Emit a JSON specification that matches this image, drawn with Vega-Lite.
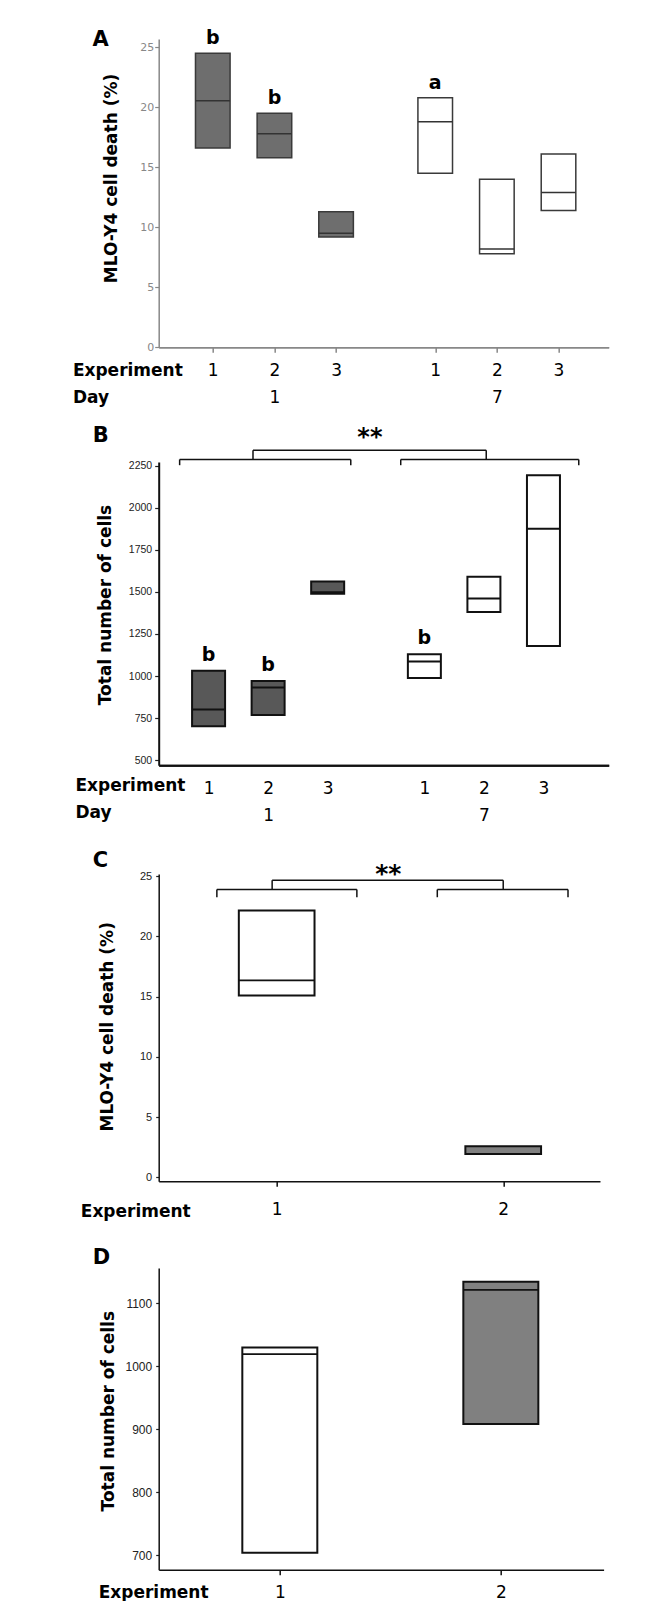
{
  "$schema": "https://vega.github.io/schema/vega-lite/v6.json",
  "background": "white",
  "padding": {"left": 71.7, "top": 28, "right": 5, "bottom": 0},
  "config": {
    "view": {"stroke": null},
    "font": "DejaVu Sans",
    "axis": {"grid": false}
  },
  "datasets": {
    "A": [
      {"Day": 1, "Experiment": 1, "Low": 16.6, "Median": 20.55, "High": 24.5, "Letter": "b"},
      {"Day": 1, "Experiment": 2, "Low": 15.8, "Median": 17.8, "High": 19.5, "Letter": "b"},
      {"Day": 1, "Experiment": 3, "Low": 9.2, "Median": 9.5, "High": 11.3, "Letter": ""},
      {"Day": 7, "Experiment": 1, "Low": 14.5, "Median": 18.8, "High": 20.8, "Letter": "a"},
      {"Day": 7, "Experiment": 2, "Low": 7.8, "Median": 8.2, "High": 14.0, "Letter": ""},
      {"Day": 7, "Experiment": 3, "Low": 11.4, "Median": 12.9, "High": 16.1, "Letter": ""}
    ],
    "B": [
      {"Day": 1, "Experiment": 1, "Low": 702, "Median": 801, "High": 1031, "Letter": "b"},
      {"Day": 1, "Experiment": 2, "Low": 768, "Median": 932, "High": 970, "Letter": "b"},
      {"Day": 1, "Experiment": 3, "Low": 1488, "Median": 1497, "High": 1562, "Letter": ""},
      {"Day": 7, "Experiment": 1, "Low": 988, "Median": 1086, "High": 1130, "Letter": "b"},
      {"Day": 7, "Experiment": 2, "Low": 1380, "Median": 1461, "High": 1590, "Letter": ""},
      {"Day": 7, "Experiment": 3, "Low": 1178, "Median": 1875, "High": 2193, "Letter": ""}
    ],
    "C": [
      {"Experiment": 1, "Low": 15.1, "Median": 16.36, "High": 22.15},
      {"Experiment": 2, "Low": 1.94, "Median": 1.94, "High": 2.57}
    ],
    "D": [
      {"Experiment": 1, "Low": 703.7, "Median": 1019, "High": 1029.5},
      {"Experiment": 2, "Low": 908, "Median": 1121, "High": 1133.8}
    ],
    "bracketsB": [
      {"from": 0.514, "to": 3.388, "bar": 2286, "tip": 2252},
      {"from": 4.227, "to": 7.217, "bar": 2286, "tip": 2252},
      {"from": 1.746, "to": 5.663, "bar": 2341, "tip": 2286}
    ],
    "bracketsC": [
      {"from": 0.736, "to": 1.354, "bar": 23.9, "tip": 23.26},
      {"from": 1.709, "to": 2.286, "bar": 23.9, "tip": 23.26},
      {"from": 0.98, "to": 2.0, "bar": 24.67, "tip": 23.9}
    ],
    "significanceB": [
      {"label": "**", "at": 3.709, "level": 2374}
    ],
    "significanceC": [
      {"label": "**", "at": 1.4923, "level": 24.51}
    ]
  },
  "vconcat": [
    {
      "width": 450,
      "height": 308.3,
      "title": {"text": "A", "anchor": "start", "frame": "group", "orient": "top", "offset": 0, "baseline": "alphabetic", "dx": -66.3, "dy": 37.4, "font": "DejaVu Sans", "fontSize": 21, "fontWeight": "bold", "color": "#000"},
      "data": {"name": "A"},
      "layer": [
        {
          "transform": [{"filter": "datum.Day == 1"}],
          "encoding": {
            "x": {
              "field": "Experiment", "type": "quantitative",
              "scale": {"domain": [0.2038, 7.341], "nice": false, "zero": false},
              "axis": {
                "orient": "bottom", "values": [1, 2, 3], "format": "d",
                "labelExpr": "datum.value == 2 ? ['2', '1'] : datum.label",
                "labelFont": "DejaVu Sans", "labelFontSize": 17, "labelColor": "#000", "labelBaseline": "alphabetic", "labelPadding": 23.4, "labelLineHeight": 27, "labelFlush": false, "labelOverlap": false,
                "tickSize": 5, "tickColor": "#888", "tickWidth": 1.5,
                "domainColor": "#888", "domainWidth": 1.5,
                "title": ["Experiment", "Day"], "titleFont": "DejaVu Sans", "titleFontSize": 17, "titleFontWeight": "bold", "titleColor": "#000", "titleAlign": "left", "titleAngle": 0, "titleBaseline": "alphabetic", "titleLineHeight": 27, "titleX": -86.3, "titleY": 28.4
              }
            }
          },
          "layer": [
            {
              "mark": {"type": "bar", "orient": "vertical", "width": 34.6, "stroke": "#3a3a3a", "strokeWidth": 1.5},
              "encoding": {
                "y": {
                  "field": "Low", "type": "quantitative",
                  "scale": {"domain": [0, 25.69], "nice": false, "zero": false},
                  "axis": {
                    "values": [0, 5, 10, 15, 20, 25],
                    "labelFont": "DejaVu Sans", "labelFontSize": 11, "labelColor": "#888", "labelPadding": 1,
                    "tickSize": 4, "tickColor": "#888", "tickWidth": 1.2,
                    "domainColor": "#888", "domainWidth": 1.5,
                    "title": "MLO-Y4  cell death (%)", "titleFont": "DejaVu Sans", "titleFontSize": 17, "titleFontWeight": "bold", "titleColor": "#000",
                    "titleAngle": -90, "titleAlign": "center", "titleBaseline": "middle", "titleX": -47.1, "titleY": 139
                  }
                },
                "y2": {"field": "High"},
                "fill": {"field": "Day", "type": "nominal", "scale": {"domain": [1, 7], "range": ["#6e6e6e", "#ffffff"]}, "legend": null}
              }
            },
            {
              "mark": {"type": "tick", "orient": "horizontal", "size": 34.6, "thickness": 1.5, "color": "#333", "opacity": 1},
              "encoding": {"y": {"field": "Median", "type": "quantitative", "scale": {"domain": [0, 25.69], "nice": false, "zero": false}}}
            },
            {
              "mark": {"type": "text", "dy": -9, "baseline": "alphabetic", "align": "center", "font": "DejaVu Sans", "fontSize": 19, "fontWeight": "bold", "color": "#000"},
              "encoding": {
                "y": {"field": "High", "type": "quantitative", "scale": {"domain": [0, 25.69], "nice": false, "zero": false}},
                "text": {"field": "Letter"}
              }
            }
          ]
        },
        {
          "transform": [{"filter": "datum.Day == 7"}],
          "encoding": {
            "x": {
              "field": "Experiment", "type": "quantitative",
              "scale": {"domain": [-3.4044, 3.7328], "nice": false, "zero": false},
              "axis": {
                "orient": "bottom", "values": [1, 2, 3], "format": "d",
                "labelExpr": "datum.value == 2 ? ['2', '7'] : datum.label",
                "labelFont": "DejaVu Sans", "labelFontSize": 17, "labelColor": "#000", "labelBaseline": "alphabetic", "labelPadding": 23.4, "labelLineHeight": 27, "labelFlush": false, "labelOverlap": false,
                "tickSize": 5, "tickColor": "#888", "tickWidth": 1.5,
                "domainColor": "#888", "domainWidth": 1.5,
                "title": null
              }
            }
          },
          "layer": [
            {
              "mark": {"type": "bar", "orient": "vertical", "width": 34.6, "stroke": "#3a3a3a", "strokeWidth": 1.5},
              "encoding": {
                "y": {"field": "Low", "type": "quantitative", "scale": {"domain": [0, 25.69], "nice": false, "zero": false}},
                "y2": {"field": "High"},
                "fill": {"field": "Day", "type": "nominal", "scale": {"domain": [1, 7], "range": ["#6e6e6e", "#ffffff"]}, "legend": null}
              }
            },
            {
              "mark": {"type": "tick", "orient": "horizontal", "size": 34.6, "thickness": 1.5, "color": "#333", "opacity": 1},
              "encoding": {"y": {"field": "Median", "type": "quantitative", "scale": {"domain": [0, 25.69], "nice": false, "zero": false}}}
            },
            {
              "mark": {"type": "text", "dy": -9, "baseline": "alphabetic", "align": "center", "font": "DejaVu Sans", "fontSize": 19, "fontWeight": "bold", "color": "#000"},
              "encoding": {
                "y": {"field": "High", "type": "quantitative", "scale": {"domain": [0, 25.69], "nice": false, "zero": false}},
                "text": {"field": "Letter"}
              }
            }
          ]
        }
      ],
      "resolve": {"scale": {"x": "independent"}, "axis": {"x": "independent"}}
    },
    {"width": 10, "height": 113.4, "data": {"values": []}, "mark": "point", "encoding": {}},
    {
      "width": 450,
      "height": 303.3,
      "title": {"text": "B", "anchor": "start", "frame": "group", "orient": "top", "offset": 0, "baseline": "alphabetic", "dx": -65.9, "dy": 37.5, "font": "DejaVu Sans", "fontSize": 21, "fontWeight": "bold", "color": "#000"},
      "data": {"name": "B"},
      "layer": [
        {
          "encoding": {
            "x": {
              "field": "Experiment", "type": "quantitative",
              "scale": {"domain": [0.2463, 7.6355], "nice": false, "zero": false},
              "axis": {
                "orient": "bottom", "values": [1, 2, 3], "format": "d",
                "labelExpr": "datum.value == 2 ? ['2', '1'] : datum.label",
                "labelFont": "DejaVu Sans", "labelFontSize": 17, "labelColor": "#000", "labelBaseline": "alphabetic", "labelPadding": 28.3, "labelLineHeight": 26.7, "labelFlush": false, "labelOverlap": false,
                "tickSize": 0, "tickOpacity": 0,
                "domainColor": "#111", "domainWidth": 2,
                "title": ["Experiment", "Day"], "titleFont": "DejaVu Sans", "titleFontSize": 17, "titleFontWeight": "bold", "titleColor": "#000", "titleAlign": "left", "titleAngle": 0, "titleBaseline": "alphabetic", "titleLineHeight": 26.7, "titleX": -83.7, "titleY": 25.5
              }
            }
          },
          "layer": [
            {
              "transform": [{"filter": "datum.Day == 1"}],
              "mark": {"type": "bar", "orient": "vertical", "width": 33, "stroke": "#111", "strokeWidth": 2},
              "encoding": {
                "y": {
                  "field": "Low", "type": "quantitative",
                  "scale": {"domain": [470, 2271], "nice": false, "zero": false},
                  "axis": {
                    "values": [500, 750, 1000, 1250, 1500, 1750, 2000, 2250], "format": "d",
                    "labelFont": "Liberation Sans Narrow, Liberation Sans", "labelFontSize": 10.5, "labelColor": "#222", "labelPadding": 3,
                    "tickSize": 4, "tickColor": "#222", "tickWidth": 1.2,
                    "domainColor": "#111", "domainWidth": 2,
                    "title": "Total number of cells", "titleFont": "DejaVu Sans", "titleFontSize": 17, "titleFontWeight": "bold", "titleColor": "#000",
                    "titleAngle": -90, "titleAlign": "center", "titleBaseline": "middle", "titleX": -53.4, "titleY": 142.5
                  }
                },
                "y2": {"field": "High"},
                "fill": {"field": "Day", "type": "nominal", "scale": {"domain": [1, 7], "range": ["#585858", "#ffffff"]}, "legend": null}
              }
            },
            {
              "transform": [{"filter": "datum.Day == 1"}],
              "mark": {"type": "tick", "orient": "horizontal", "size": 33, "thickness": 2, "color": "#111", "opacity": 1},
              "encoding": {"y": {"field": "Median", "type": "quantitative", "scale": {"domain": [470, 2271], "nice": false, "zero": false}}}
            },
            {
              "transform": [{"filter": "datum.Day == 1"}],
              "mark": {"type": "text", "dy": -10, "baseline": "alphabetic", "align": "center", "font": "DejaVu Sans", "fontSize": 19, "fontWeight": "bold", "color": "#000"},
              "encoding": {
                "y": {"field": "High", "type": "quantitative", "scale": {"domain": [470, 2271], "nice": false, "zero": false}},
                "text": {"field": "Letter"}
              }
            },
            {
              "data": {"name": "bracketsB"},
              "mark": {"type": "rule", "color": "#111", "strokeWidth": 1.5},
              "encoding": {
                "x": {"field": "from", "type": "quantitative", "scale": {"domain": [0.2463, 7.6355], "nice": false, "zero": false}},
                "x2": {"field": "to"},
                "y": {"field": "bar", "type": "quantitative", "scale": {"domain": [470, 2271], "nice": false, "zero": false}}
              }
            },
            {
              "data": {"name": "bracketsB"},
              "mark": {"type": "rule", "color": "#111", "strokeWidth": 1.5},
              "encoding": {
                "x": {"field": "from", "type": "quantitative", "scale": {"domain": [0.2463, 7.6355], "nice": false, "zero": false}},
                "y": {"field": "bar", "type": "quantitative", "scale": {"domain": [470, 2271], "nice": false, "zero": false}},
                "y2": {"field": "tip"}
              }
            },
            {
              "data": {"name": "bracketsB"},
              "mark": {"type": "rule", "color": "#111", "strokeWidth": 1.5},
              "encoding": {
                "x": {"field": "to", "type": "quantitative", "scale": {"domain": [0.2463, 7.6355], "nice": false, "zero": false}},
                "y": {"field": "bar", "type": "quantitative", "scale": {"domain": [470, 2271], "nice": false, "zero": false}},
                "y2": {"field": "tip"}
              }
            },
            {
              "data": {"name": "significanceB"},
              "mark": {"type": "text", "baseline": "alphabetic", "align": "center", "font": "DejaVu Sans", "fontSize": 24, "fontWeight": "bold", "color": "#000"},
              "encoding": {
                "x": {"field": "at", "type": "quantitative", "scale": {"domain": [0.2463, 7.6355], "nice": false, "zero": false}},
                "y": {"field": "level", "type": "quantitative", "scale": {"domain": [470, 2271], "nice": false, "zero": false}},
                "text": {"field": "label", "type": "nominal"}
              }
            }
          ]
        },
        {
          "transform": [{"filter": "datum.Day == 7"}],
          "encoding": {
            "x": {
              "field": "Experiment", "type": "quantitative",
              "scale": {"domain": [-3.3777, 4.0115], "nice": false, "zero": false},
              "axis": {
                "orient": "bottom", "values": [1, 2, 3], "format": "d",
                "labelExpr": "datum.value == 2 ? ['2', '7'] : datum.label",
                "labelFont": "DejaVu Sans", "labelFontSize": 17, "labelColor": "#000", "labelBaseline": "alphabetic", "labelPadding": 28.3, "labelLineHeight": 26.7, "labelFlush": false, "labelOverlap": false,
                "tickSize": 0, "tickOpacity": 0,
                "domainColor": "#111", "domainWidth": 2,
                "title": null
              }
            }
          },
          "layer": [
            {
              "mark": {"type": "bar", "orient": "vertical", "width": 33, "stroke": "#111", "strokeWidth": 2},
              "encoding": {
                "y": {"field": "Low", "type": "quantitative", "scale": {"domain": [470, 2271], "nice": false, "zero": false}},
                "y2": {"field": "High"},
                "fill": {"field": "Day", "type": "nominal", "scale": {"domain": [1, 7], "range": ["#585858", "#ffffff"]}, "legend": null}
              }
            },
            {
              "mark": {"type": "tick", "orient": "horizontal", "size": 33, "thickness": 2, "color": "#111", "opacity": 1},
              "encoding": {"y": {"field": "Median", "type": "quantitative", "scale": {"domain": [470, 2271], "nice": false, "zero": false}}}
            },
            {
              "mark": {"type": "text", "dy": -10, "baseline": "alphabetic", "align": "center", "font": "DejaVu Sans", "fontSize": 19, "fontWeight": "bold", "color": "#000"},
              "encoding": {
                "y": {"field": "High", "type": "quantitative", "scale": {"domain": [470, 2271], "nice": false, "zero": false}},
                "text": {"field": "Letter"}
              }
            }
          ]
        }
      ],
      "resolve": {"scale": {"x": "independent"}, "axis": {"x": "independent"}}
    },
    {"width": 10, "height": 107.7, "data": {"values": []}, "mark": "point", "encoding": {}},
    {
      "width": 441.3,
      "height": 307.3,
      "title": {"text": "C", "anchor": "start", "frame": "group", "orient": "top", "offset": 0, "baseline": "alphabetic", "dx": -66, "dy": 25.9, "font": "DejaVu Sans", "fontSize": 21, "fontWeight": "bold", "color": "#000"},
      "data": {"name": "C"},
      "encoding": {
        "x": {
          "field": "Experiment", "type": "quantitative",
          "scale": {"domain": [0.5013, 2.4051], "nice": false, "zero": false},
          "axis": {
            "orient": "bottom", "values": [1, 2], "format": "d",
            "labelFont": "DejaVu Sans", "labelFontSize": 17, "labelColor": "#000", "labelBaseline": "alphabetic", "labelPadding": 28.3, "labelFlush": false, "labelOverlap": false,
            "tickSize": 5, "tickColor": "#111", "tickWidth": 1.5,
            "domainColor": "#111", "domainWidth": 1.5,
            "title": "Experiment", "titleFont": "DejaVu Sans", "titleFontSize": 17, "titleFontWeight": "bold", "titleColor": "#000", "titleAlign": "left", "titleAngle": 0, "titleBaseline": "alphabetic", "titleX": -78.4, "titleY": 35
          }
        }
      },
      "layer": [
        {
          "mark": {"type": "bar", "orient": "vertical", "width": 75.7, "stroke": "#111", "strokeWidth": 2},
          "encoding": {
            "y": {
              "field": "Low", "type": "quantitative",
              "scale": {"domain": [-0.33, 25.19], "nice": false, "zero": false},
              "axis": {
                "values": [0, 5, 10, 15, 20, 25], "format": "d",
                "labelFont": "Liberation Sans Narrow, Liberation Sans", "labelFontSize": 11, "labelColor": "#222", "labelPadding": 4,
                "tickSize": 3, "tickColor": "#222", "tickWidth": 1.2,
                "domainColor": "#111", "domainWidth": 1.5,
                "title": "MLO-Y4  cell death (%)", "titleFont": "DejaVu Sans", "titleFontSize": 17, "titleFontWeight": "bold", "titleColor": "#000",
                "titleAngle": -90, "titleAlign": "center", "titleBaseline": "middle", "titleX": -51.6, "titleY": 152.3
              }
            },
            "y2": {"field": "High"},
            "fill": {"field": "Experiment", "type": "nominal", "scale": {"domain": [1, 2], "range": ["#ffffff", "#808080"]}, "legend": null}
          }
        },
        {
          "mark": {"type": "tick", "orient": "horizontal", "size": 75.7, "thickness": 1.8, "color": "#111", "opacity": 1},
          "encoding": {"y": {"field": "Median", "type": "quantitative", "scale": {"domain": [-0.33, 25.19], "nice": false, "zero": false}}}
        },
        {
          "data": {"name": "bracketsC"},
          "mark": {"type": "rule", "color": "#111", "strokeWidth": 1.5},
          "encoding": {
            "x": {"field": "from", "type": "quantitative", "scale": {"domain": [0.5013, 2.4051], "nice": false, "zero": false}},
            "x2": {"field": "to"},
            "y": {"field": "bar", "type": "quantitative", "scale": {"domain": [-0.33, 25.19], "nice": false, "zero": false}}
          }
        },
        {
          "data": {"name": "bracketsC"},
          "mark": {"type": "rule", "color": "#111", "strokeWidth": 1.5},
          "encoding": {
            "x": {"field": "from", "type": "quantitative", "scale": {"domain": [0.5013, 2.4051], "nice": false, "zero": false}},
            "y": {"field": "bar", "type": "quantitative", "scale": {"domain": [-0.33, 25.19], "nice": false, "zero": false}},
            "y2": {"field": "tip"}
          }
        },
        {
          "data": {"name": "bracketsC"},
          "mark": {"type": "rule", "color": "#111", "strokeWidth": 1.5},
          "encoding": {
            "x": {"field": "to", "type": "quantitative", "scale": {"domain": [0.5013, 2.4051], "nice": false, "zero": false}},
            "y": {"field": "bar", "type": "quantitative", "scale": {"domain": [-0.33, 25.19], "nice": false, "zero": false}},
            "y2": {"field": "tip"}
          }
        },
        {
          "data": {"name": "significanceC"},
          "mark": {"type": "text", "baseline": "alphabetic", "align": "center", "font": "DejaVu Sans", "fontSize": 25, "fontWeight": "bold", "color": "#000"},
          "encoding": {
            "x": {"field": "at", "type": "quantitative", "scale": {"domain": [0.5013, 2.4051], "nice": false, "zero": false}},
            "y": {"field": "level", "type": "quantitative", "scale": {"domain": [-0.33, 25.19], "nice": false, "zero": false}},
            "text": {"field": "label", "type": "nominal"}
          }
        }
      ]
    },
    {"width": 10, "height": 85.3, "data": {"values": []}, "mark": "point", "encoding": {}},
    {
      "width": 444.9,
      "height": 301.7,
      "title": {"text": "D", "anchor": "start", "frame": "group", "orient": "top", "offset": 0, "baseline": "alphabetic", "dx": -66, "dy": 16.7, "font": "DejaVu Sans", "fontSize": 21, "fontWeight": "bold", "color": "#000"},
      "data": {"name": "D"},
      "encoding": {
        "x": {
          "field": "Experiment", "type": "quantitative",
          "scale": {"domain": [0.4746, 2.4423], "nice": false, "zero": false},
          "axis": {
            "orient": "bottom", "values": [1, 2], "format": "d",
            "labelFont": "DejaVu Sans", "labelFontSize": 17, "labelColor": "#000", "labelBaseline": "alphabetic", "labelPadding": 23, "labelFlush": false, "labelOverlap": false,
            "tickSize": 5, "tickColor": "#111", "tickWidth": 1.5,
            "domainColor": "#111", "domainWidth": 1.5,
            "title": "Experiment", "titleFont": "DejaVu Sans", "titleFontSize": 17, "titleFontWeight": "bold", "titleColor": "#000", "titleAlign": "left", "titleAngle": 0, "titleBaseline": "alphabetic", "titleX": -60.5, "titleY": 28
          }
        }
      },
      "layer": [
        {
          "mark": {"type": "bar", "orient": "vertical", "width": 75, "stroke": "#111", "strokeWidth": 2},
          "encoding": {
            "y": {
              "field": "Low", "type": "quantitative",
              "scale": {"domain": [676.7, 1155.6], "nice": false, "zero": false},
              "axis": {
                "values": [700, 800, 900, 1000, 1100], "format": "d",
                "labelFont": "Liberation Sans Narrow, Liberation Sans", "labelFontSize": 12, "labelColor": "#222", "labelPadding": 4,
                "tickSize": 3, "tickColor": "#222", "tickWidth": 1.2,
                "domainColor": "#111", "domainWidth": 1.5,
                "title": "Total number of cells", "titleFont": "DejaVu Sans", "titleFontSize": 17, "titleFontWeight": "bold", "titleColor": "#000",
                "titleAngle": -90, "titleAlign": "center", "titleBaseline": "middle", "titleX": -49.8, "titleY": 142.7
              }
            },
            "y2": {"field": "High"},
            "fill": {"field": "Experiment", "type": "nominal", "scale": {"domain": [1, 2], "range": ["#ffffff", "#808080"]}, "legend": null}
          }
        },
        {
          "mark": {"type": "tick", "orient": "horizontal", "size": 75, "thickness": 1.8, "color": "#111", "opacity": 1},
          "encoding": {"y": {"field": "Median", "type": "quantitative", "scale": {"domain": [676.7, 1155.6], "nice": false, "zero": false}}}
        }
      ]
    }
  ],
  "spacing": 0,
  "bounds": "flush",
  "resolve": {"scale": {"fill": "independent"}}
}
